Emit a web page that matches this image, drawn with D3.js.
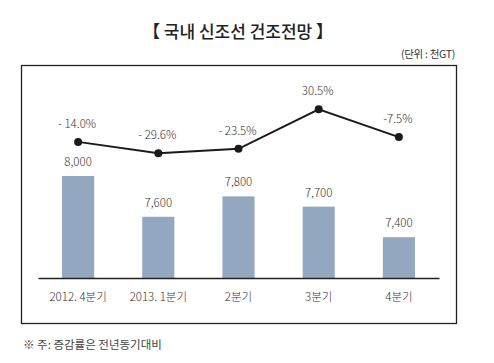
<!DOCTYPE html>
<html>
<head>
<meta charset="utf-8">
<script src="https://cdn.jsdelivr.net/npm/d3@7"></script>
<style>
  body { margin: 0; background: #fff; }
  text { font-family: "Noto Sans CJK KR", "Noto Sans", sans-serif; }
</style>
</head>
<body>
<svg id="chart" width="494" height="363"></svg>
<script>
// quarters, built tonnage (thousand GT) and growth rate vs same quarter last year
let quarters = ["2012. 4분기", "2013. 1분기", "2분기", "3분기", "4분기"];
let tonnage = [8000, 7600, 7800, 7700, 7400];
let growth = [-14.0, -29.6, -23.5, 30.5, -7.5];
let growthLabels = ["- 14.0%", "- 29.6%", "- 23.5%", "30.5%", "-7.5%"];

let svg = d3.select("#chart");

// outer frame of the chart
svg.append("rect")
    .attr("x", 21.5).attr("y", 65.5)
    .attr("width", 435).attr("height", 258)
    .attr("fill", "none")
    .attr("stroke", "#222")
    .attr("stroke-width", 1.3);

svg.append("text")
    .attr("x", 238).attr("y", 38)
    .attr("text-anchor", "middle")
    .attr("font-size", 17)
    .attr("font-weight", 500)
    .attr("fill", "#222")
    .text("【 국내 신조선 건조전망 】");

svg.append("text")
    .attr("x", 455).attr("y", 58)
    .attr("text-anchor", "end")
    .attr("font-size", 10.5)
    .attr("fill", "#333")
    .attr("letter-spacing", -0.3)
    .text("(단위 : 천GT)");

let x = d3.scaleBand()
    .domain(quarters)
    .range([38, 439])
    .paddingInner(0.6)
    .paddingOuter(0.3);

// bars start at 7,000 rather than zero
let y = d3.scaleLinear().domain([7000, 8000]).range([278, 176]);
let y2 = d3.scaleLinear().domain([-29.6, 30.5]).range([153.3, 109.3]);

let cx = (d) => x(d) + x.bandwidth() / 2;

svg.append("g")
    .selectAll("rect")
    .data(quarters)
    .enter().append("rect")
    .attr("x", (d) => x(d))
    .attr("y", (d, i) => y(tonnage[i]))
    .attr("width", x.bandwidth())
    .attr("height", (d, i) => 278 - y(tonnage[i]))
    .attr("fill", "#93a7c1");

svg.append("g")
    .selectAll("text")
    .data(quarters)
    .enter().append("text")
    .attr("x", cx)
    .attr("y", (d, i) => y(tonnage[i]) - 10)
    .attr("text-anchor", "middle")
    .attr("font-size", 11.5)
    .attr("font-weight", 300)
    .attr("fill", "#333")
    .text((d, i) => d3.format(",")(tonnage[i]));

// baseline axis, no ticks
let xAxis = svg.append("g")
    .attr("transform", "translate(0, 278)")
    .call(d3.axisBottom(x).tickSize(0).tickPadding(15));
xAxis.select(".domain").attr("stroke", "#222").attr("stroke-width", 1.3);
xAxis.selectAll("text")
    .attr("font-size", 11.5)
    .attr("font-weight", 300)
    .attr("fill", "#333")
    .attr("font-family", "\"Noto Sans CJK KR\", sans-serif");

// growth line
let line = d3.line()
    .x((d, i) => cx(quarters[i]))
    .y((d) => y2(d));

svg.append("path")
    .datum(growth)
    .attr("d", line)
    .attr("fill", "none")
    .attr("stroke", "#1a1a1a")
    .attr("stroke-width", 2);

svg.append("g")
    .selectAll("circle")
    .data(growth)
    .enter().append("circle")
    .attr("cx", (d, i) => cx(quarters[i]))
    .attr("cy", (d) => y2(d))
    .attr("r", 4)
    .attr("fill", "#1a1a1a");

svg.append("g")
    .selectAll("text")
    .data(growth)
    .enter().append("text")
    .attr("x", (d, i) => cx(quarters[i]) - 1)
    .attr("y", (d) => y2(d) - 14)
    .attr("text-anchor", "middle")
    .attr("font-size", 11.5)
    .attr("font-weight", 300)
    .attr("fill", "#333")
    .text((d, i) => growthLabels[i]);

svg.append("text")
    .attr("x", 23).attr("y", 349)
    .attr("font-size", 11.5)
    .attr("fill", "#444")
    .text("※ 주: 증감률은 전년동기대비");
</script>
</body>
</html>
